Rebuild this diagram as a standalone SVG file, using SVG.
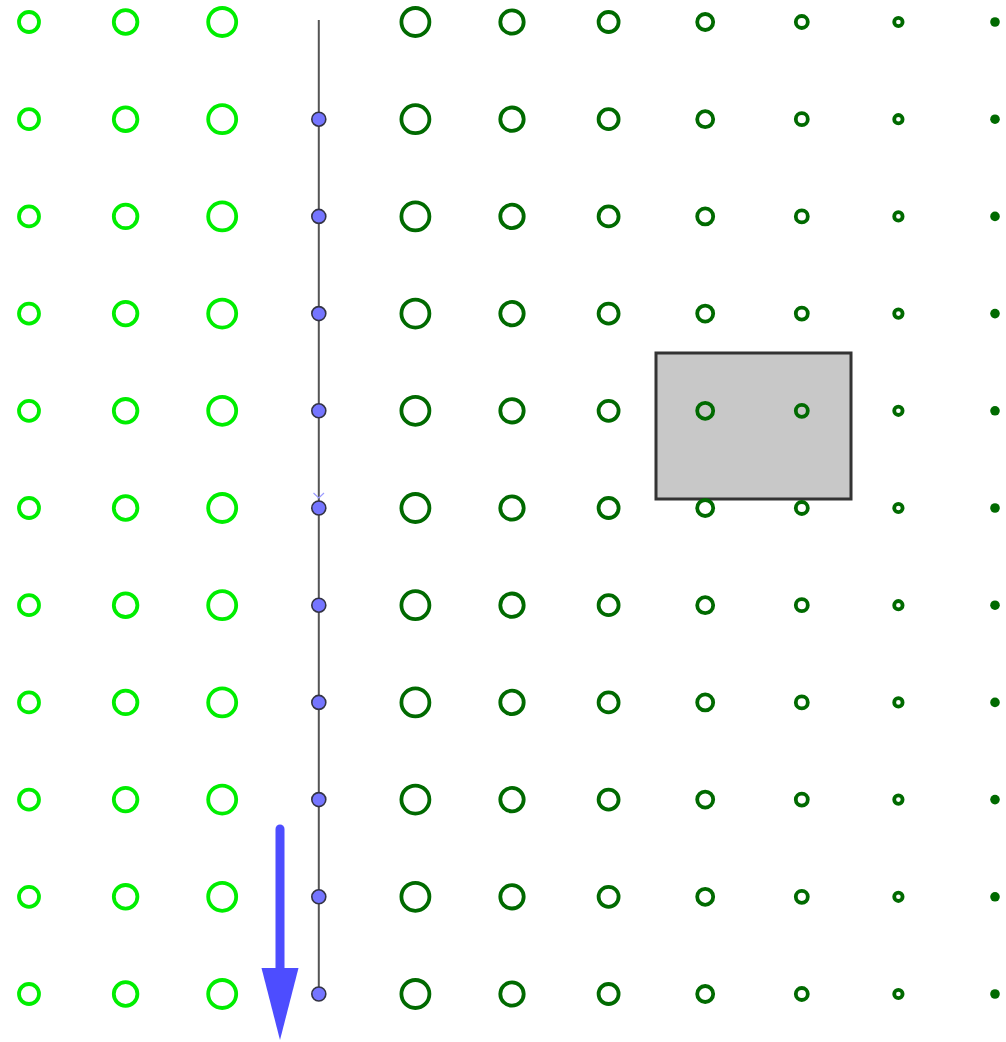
<svg xmlns="http://www.w3.org/2000/svg" xmlns:xlink="http://www.w3.org/1999/xlink" width="1006" height="1042" viewBox="0 0 1006 1042">
<style>
.lg{fill:none;stroke:#00ee00;stroke-width:3.8}
.dg{fill:none;stroke:#006a00;stroke-width:3.8}
.pt{fill:#7575ff;stroke:#333344;stroke-width:1.6}
</style>
<defs>
<g id="row">
<circle class="lg" cx="29" cy="0" r="10"/>
<circle class="lg" cx="125.6" cy="0" r="11.8"/>
<circle class="lg" cx="222.2" cy="0" r="14"/>
<circle class="dg" cx="415.4" cy="0" r="14"/>
<circle class="dg" cx="512" cy="0" r="11.7"/>
<circle class="dg" cx="608.6" cy="0" r="10"/>
<circle class="dg" cx="705.2" cy="0" r="8"/>
<circle class="dg" cx="801.8" cy="0" r="6"/>
<circle class="dg" cx="898.4" cy="0" r="4.2"/>
<circle cx="995" cy="0" r="4.8" fill="#006a00"/>
</g>
</defs>
<rect x="656" y="353" width="195" height="146" fill="#c8c8c8" stroke="#333" stroke-width="3"/>
<g id="grid">
<use xlink:href="#row" y="22"/>
<use xlink:href="#row" y="119.2"/>
<use xlink:href="#row" y="216.4"/>
<use xlink:href="#row" y="313.6"/>
<use xlink:href="#row" y="410.8"/>
<use xlink:href="#row" y="508"/>
<use xlink:href="#row" y="605.2"/>
<use xlink:href="#row" y="702.4"/>
<use xlink:href="#row" y="799.6"/>
<use xlink:href="#row" y="896.8"/>
<use xlink:href="#row" y="994"/>
</g>
<g id="slider">
<line x1="318.8" y1="20" x2="318.8" y2="994" stroke="#555" stroke-width="2"/>
<path d="M313.5,493 L318.8,498 L324,493" fill="none" stroke="#9a9aff" stroke-width="1.2"/>
<circle class="pt" cx="318.8" cy="119.2" r="7"/>
<circle class="pt" cx="318.8" cy="216.4" r="7"/>
<circle class="pt" cx="318.8" cy="313.6" r="7"/>
<circle class="pt" cx="318.8" cy="410.8" r="7"/>
<circle class="pt" cx="318.8" cy="508" r="7"/>
<circle class="pt" cx="318.8" cy="605.2" r="7"/>
<circle class="pt" cx="318.8" cy="702.4" r="7"/>
<circle class="pt" cx="318.8" cy="799.6" r="7"/>
<circle class="pt" cx="318.8" cy="896.8" r="7"/>
<circle class="pt" cx="318.8" cy="994" r="7"/>
</g>
<g id="arrow">
<line x1="280" y1="829" x2="280" y2="970" stroke="#4d4dff" stroke-width="9" stroke-linecap="round"/>
<polygon points="261.5,968 298.5,968 280,1040" fill="#4d4dff"/>
</g>
</svg>
